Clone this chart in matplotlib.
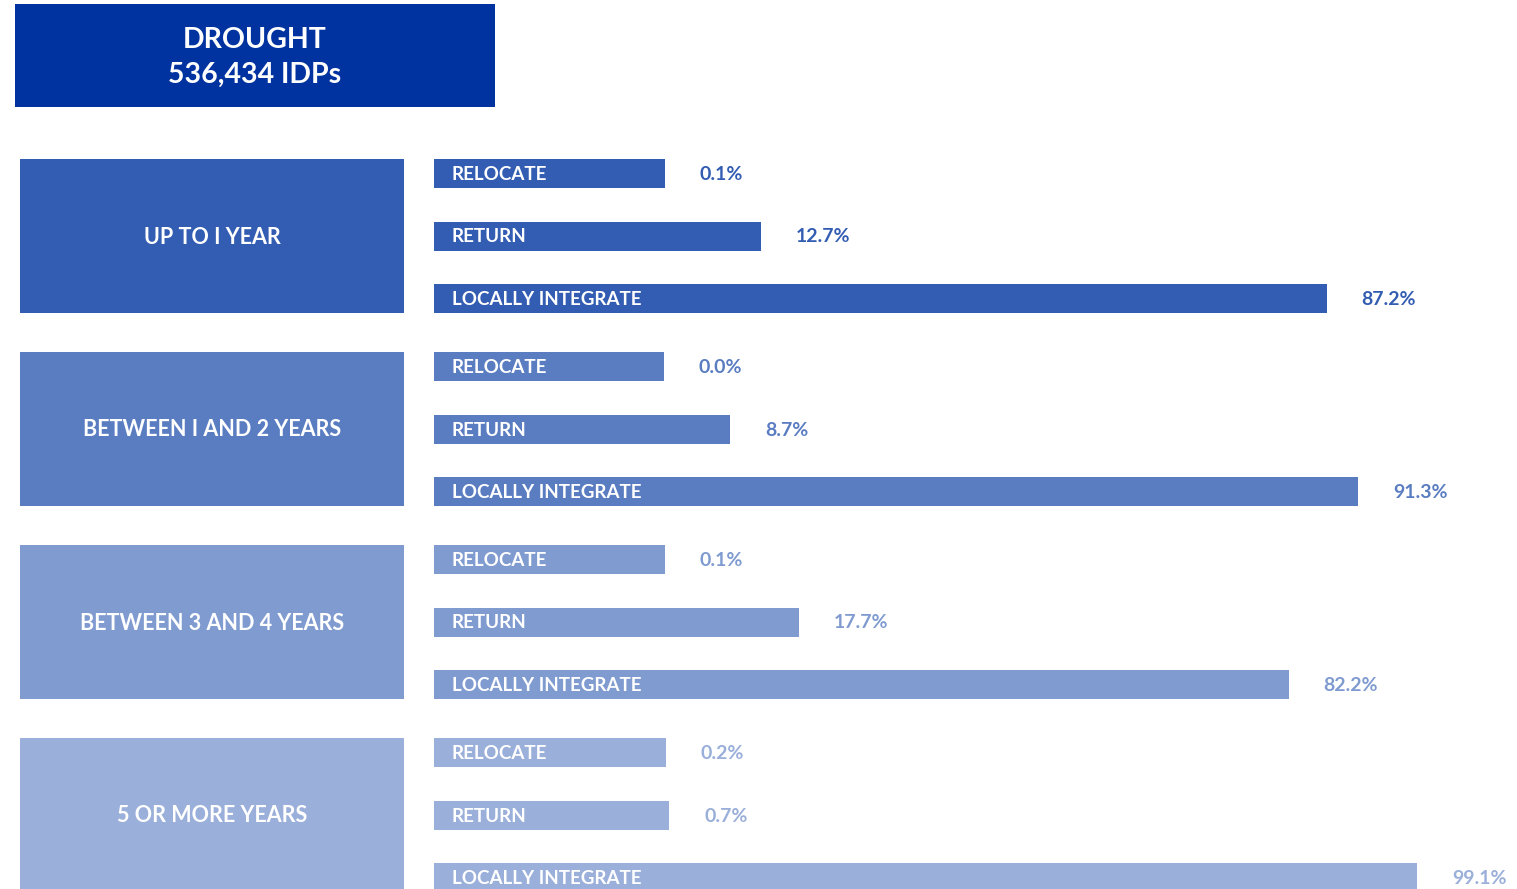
import matplotlib.pyplot as plt

# Dati
groups = ["UP TO I YEAR", "BETWEEN I AND 2 YEARS", "BETWEEN 3 AND 4 YEARS", "5 OR MORE YEARS"]
options = ["RELOCATE", "RETURN", "LOCALLY INTEGRATE"]
relocate = [0.1, 0.0, 0.1, 0.2]
returned = [12.7, 8.7, 17.7, 0.7]
integrate = [87.2, 91.3, 82.2, 99.1]
value_labels = [
    ["0.1%", "12.7%", "87.2%"],
    ["0.0%", "8.7%", "91.3%"],
    ["0.1%", "17.7%", "82.2%"],
    ["0.2%", "0.7%", "99.1%"],
]
title_lines = ["DROUGHT", "536,434 IDPs"]

colors = ["#335db2", "#5a7dc2", "#7f9bd0", "#9aafd9"]
title_color = "#0033a0"

# Layout in pixel
W, H = 1517, 889
BOX_X0, BOX_X1 = 20, 404
BAR_X0 = 434
MIN_W = 230      # larghezza minima della barra (etichetta)
SCALE = 7.6      # pixel per punto percentuale
GROUP_TOP = 159
GROUP_STEP = 193
GROUP_H = 154
ROW_STEP = 62.5
BAR_H = 29
GAP = 35

plt.rcParams['font.family'] = ['Lato', 'DejaVu Sans']

fig = plt.figure(figsize=(W / 100, H / 100), dpi=100)
ax = fig.add_axes([0, 0, 1, 1])
ax.set_xlim(0, W)
ax.set_ylim(H, 0)
ax.axis('off')

# Titolo
ax.barh(4, 480, left=15, height=103, align='edge', color=title_color)
ax.text(255, 40, title_lines[0], color='white', fontsize=20.5, fontweight='bold',
        ha='center', va='center')
ax.text(255, 75, title_lines[1], color='white', fontsize=20.5, fontweight='bold',
        ha='center', va='center')

for i, g in enumerate(groups):
    top = GROUP_TOP + i * GROUP_STEP
    c = colors[i]
    ax.barh(top, BOX_X1 - BOX_X0, left=BOX_X0, height=GROUP_H, align='edge', color=c)
    ax.text((BOX_X0 + BOX_X1) / 2, top + GROUP_H / 2 + 1, g, color='white', fontsize=15.5,
            fontweight='bold', ha='center', va='center')
    vals = [relocate[i], returned[i], integrate[i]]
    for j, v in enumerate(vals):
        y = top + j * ROW_STEP
        w = MIN_W + v * SCALE
        ax.barh(y, w, left=BAR_X0, height=BAR_H, align='edge', color=c)
        ax.text(BAR_X0 + 18, y + BAR_H / 2 + 1, options[j], color='white', fontsize=13.5,
                fontweight='bold', ha='left', va='center')
        ax.text(BAR_X0 + w + GAP, y + BAR_H / 2 + 1, value_labels[i][j], color=c, fontsize=14,
                fontweight='bold', ha='left', va='center')

fig.savefig('out.png', dpi=100)
